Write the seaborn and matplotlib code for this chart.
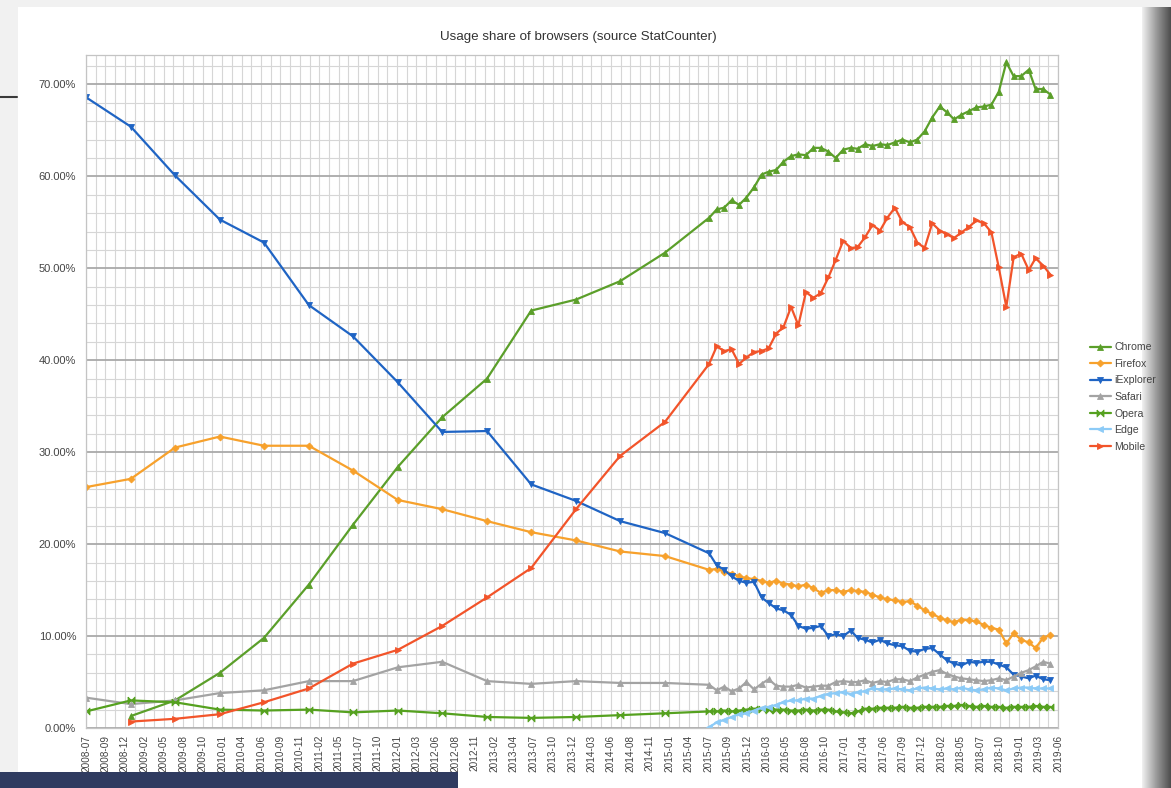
import numpy as np
import pandas as pd
import matplotlib
matplotlib.use("Agg")
import matplotlib.pyplot as plt
import matplotlib.dates as mdates
from matplotlib.patches import Rectangle
from matplotlib.lines import Line2D
import seaborn as sns

# === Data (usage share in %) ===
# half-yearly points 2008-07 .. 2015-07, then monthly 2015-08 .. 2019-05
early_dates = pd.date_range("2008-07-01", "2015-07-01", freq="6MS")
monthly_dates = pd.date_range("2015-08-01", "2019-05-01", freq="MS")

chrome_early = [np.nan, 1.3, 3.0, 6.0, 9.8, 15.6, 22.1, 28.4, 33.8, 38.0, 45.4, 46.6, 48.6, 51.7, 55.5]
chrome_late = [56.4, 56.6, 57.4, 56.9, 57.7, 58.8, 60.2, 60.5, 60.7, 61.6,
               62.2, 62.4, 62.3, 63.1, 63.1, 62.7, 62.0, 62.9, 63.1, 63.0,
               63.5, 63.3, 63.5, 63.4, 63.7, 64.0, 63.7, 64.0, 64.9, 66.4,
               67.6, 67.0, 66.2, 66.7, 67.1, 67.5, 67.6, 67.8, 69.2, 72.4,
               70.9, 70.9, 71.6, 69.5, 69.5, 68.9]

firefox_early = [26.2, 27.1, 30.5, 31.7, 30.7, 30.7, 28.0, 24.8, 23.8, 22.5, 21.3, 20.4, 19.2, 18.7, 17.2]
firefox_late = [17.3, 17.0, 16.8, 16.5, 16.3, 16.2, 16.0, 15.8, 16.0, 15.7,
                15.6, 15.4, 15.6, 15.2, 14.7, 15.0, 15.0, 14.8, 15.0, 14.9,
                14.8, 14.5, 14.2, 14.0, 13.9, 13.7, 13.8, 13.3, 12.8, 12.4,
                12.0, 11.7, 11.5, 11.8, 11.7, 11.6, 11.2, 10.9, 10.7, 9.2,
                10.3, 9.6, 9.3, 8.7, 9.8, 10.1]

iexplorer_early = [68.6, 65.4, 60.1, 55.3, 52.8, 46.0, 42.6, 37.6, 32.2, 32.3, 26.5, 24.7, 22.5, 21.2, 19.0]
iexplorer_late = [17.7, 17.2, 16.5, 16.0, 15.8, 15.9, 14.2, 13.6, 13.0, 12.8,
                  12.3, 11.1, 10.8, 10.9, 11.1, 10.0, 10.2, 10.0, 10.6, 9.8,
                  9.6, 9.3, 9.6, 9.2, 9.0, 8.9, 8.4, 8.3, 8.6, 8.7,
                  8.0, 7.4, 7.0, 6.8, 7.2, 7.1, 7.2, 7.2, 6.9, 6.6,
                  5.8, 5.6, 5.4, 5.7, 5.3, 5.2]

safari_early = [3.3, 2.6, 3.0, 3.8, 4.1, 5.1, 5.1, 6.6, 7.2, 5.1, 4.8, 5.1, 4.9, 4.9, 4.7]
safari_late = [4.1, 4.5, 4.0, 4.3, 5.0, 4.2, 4.8, 5.3, 4.6, 4.5,
               4.5, 4.7, 4.4, 4.5, 4.6, 4.6, 5.0, 5.1, 5.0, 5.0,
               5.2, 4.9, 5.1, 5.0, 5.3, 5.3, 5.1, 5.5, 5.8, 6.1,
               6.3, 5.9, 5.6, 5.4, 5.3, 5.2, 5.1, 5.2, 5.4, 5.2,
               5.6, 6.0, 6.3, 6.7, 7.2, 7.0]

opera_early = [1.8, 3.0, 2.8, 2.0, 1.9, 2.0, 1.7, 1.9, 1.6, 1.2, 1.1, 1.2, 1.4, 1.6, 1.8]
opera_late = [1.8, 1.9, 1.8, 1.9, 2.0, 2.1, 2.1, 2.0, 2.0, 2.0,
              1.9, 1.9, 2.0, 1.9, 2.0, 2.0, 1.8, 1.7, 1.6, 1.8,
              2.1, 2.1, 2.2, 2.2, 2.2, 2.3, 2.2, 2.2, 2.3, 2.3,
              2.3, 2.4, 2.4, 2.5, 2.4, 2.3, 2.4, 2.3, 2.3, 2.2,
              2.3, 2.3, 2.3, 2.4, 2.3, 2.3]

edge_early = [np.nan] * 14 + [0.1]
edge_late = [0.6, 0.9, 1.2, 1.5, 1.6, 1.9, 2.2, 2.3, 2.5, 2.8,
             3.0, 3.0, 3.2, 3.2, 3.5, 3.7, 3.8, 3.9, 3.7, 3.9,
             4.0, 4.3, 4.2, 4.2, 4.3, 4.2, 4.1, 4.3, 4.4, 4.3,
             4.2, 4.3, 4.2, 4.4, 4.2, 4.1, 4.2, 4.4, 4.3, 4.1,
             4.3, 4.4, 4.4, 4.3, 4.3, 4.3]

mobile_early = [np.nan, 0.7, 1.0, 1.5, 2.8, 4.3, 7.0, 8.5, 11.1, 14.2, 17.4, 23.8, 29.6, 33.3, 39.6]
mobile_late = [41.5, 41.0, 41.2, 39.6, 40.3, 40.9, 41.0, 41.3, 42.9, 43.6,
               45.8, 43.8, 47.4, 46.8, 47.3, 49.0, 50.9, 53.0, 52.2, 52.3,
               53.4, 54.7, 54.1, 55.5, 56.6, 55.0, 54.5, 52.8, 52.2, 54.9,
               54.1, 53.7, 53.3, 53.9, 54.5, 55.2, 54.9, 53.9, 50.1, 45.8,
               51.2, 51.6, 49.8, 51.1, 50.3, 49.3]

tick_labels = [
    "2008-07", "2008-09", "2008-12", "2009-02", "2009-05", "2009-08", "2009-10",
    "2010-01", "2010-04", "2010-06", "2010-09", "2010-11", "2011-02", "2011-05",
    "2011-07", "2011-10", "2012-01", "2012-03", "2012-06", "2012-08", "2012-11",
    "2013-02", "2013-04", "2013-07", "2013-10", "2013-12", "2014-03", "2014-06",
    "2014-08", "2014-11", "2015-01", "2015-04", "2015-07", "2015-09", "2015-12",
    "2016-03", "2016-05", "2016-08", "2016-10", "2017-01", "2017-04", "2017-06",
    "2017-09", "2017-12", "2018-02", "2018-05", "2018-07", "2018-10", "2019-01",
    "2019-03", "2019-06",
]

series = {
    "Chrome": chrome_early + chrome_late,
    "Firefox": firefox_early + firefox_late,
    "iExplorer": iexplorer_early + iexplorer_late,
    "Safari": safari_early + safari_late,
    "Opera": opera_early + opera_late,
    "Edge": edge_early + edge_late,
    "Mobile": mobile_early + mobile_late,
}
all_dates = list(early_dates) + list(monthly_dates)

frames = [pd.DataFrame({"date": all_dates, "share": vals, "browser": name})
          for name, vals in series.items()]
df = pd.concat(frames).dropna()

# === Styles ===
bowtie = [(-1, 1), (-1, -1), (1, 1), (1, -1), (-1, 1)]
styles = {
    "Chrome": dict(color="#5b9f2a", marker="^", ms=5),
    "Firefox": dict(color="#f7a12c", marker="D", ms=3.5),
    "iExplorer": dict(color="#1f64c4", marker="v", ms=5),
    "Safari": dict(color="#a3a3a3", marker="^", ms=4),
    "Opera": dict(color="#55a11f", marker=bowtie, ms=5),
    "Edge": dict(color="#8ccbf7", marker="<", ms=5),
    "Mobile": dict(color="#f2542a", marker=">", ms=5),
}

sns.set_theme(style="white")
plt.rcParams["font.family"] = ["Liberation Sans", "DejaVu Sans"]

W, H = 1171, 788
fig = plt.figure(figsize=(W / 100, H / 100), dpi=100)
fig.patch.set_facecolor("white")

# screenshot frame bits
def px_rect(x0, y0, x1, y1, color, z=0):
    fig.patches.append(Rectangle((x0 / W, 1 - y1 / H), (x1 - x0) / W, (y1 - y0) / H,
                                 transform=fig.transFigure, facecolor=color,
                                 edgecolor="none", zorder=z))

px_rect(0, 0, W, 7, "#f1f1f1")
px_rect(0, 0, 18, H, "#f1f1f1")
fig.lines.append(Line2D([0, 17 / W], [1 - 97 / H, 1 - 97 / H], transform=fig.transFigure,
                        color="#3a3a3a", lw=1.5))
shade = fig.add_axes([1142 / W, 0, (W - 1142) / W, 1])
shade.imshow(np.linspace(0, 1, 60)[None, :], aspect="auto",
             cmap=sns.blend_palette(["#f0f0f0", "#9a9a9a", "#4e4e4e"], as_cmap=True))
shade.set_axis_off()

ax = fig.add_axes([86 / W, 1 - 728 / H, (1058 - 86) / W, (728 - 55) / H])

for name in series:
    st = styles[name]
    sns.lineplot(data=df[df["browser"] == name], x="date", y="share", ax=ax,
                 color=st["color"], marker=st["marker"], markersize=st["ms"],
                 markeredgewidth=0.6, markeredgecolor=st["color"],
                 linewidth=1.6, label=name, errorbar=None)

# === Axes ===
start, end = mdates.date2num(pd.Timestamp("2008-07-01")), mdates.date2num(pd.Timestamp("2019-06-01"))
ticks = np.linspace(start, end, len(tick_labels))
ax.set_xlim(start, end)
ax.set_xticks(ticks)
ax.set_xticklabels(tick_labels, rotation=90, fontsize=7.2, color="#444444")
ax.set_xticks((ticks[:-1] + ticks[1:]) / 2, minor=True)

ax.set_ylim(0, 73.2)
ax.set_yticks(np.arange(0, 71, 10))
ax.set_yticks(np.arange(0, 73, 2), minor=True)
ax.yaxis.set_major_formatter(lambda v, p: f"{v:.2f}%")
ax.tick_params(axis="y", labelsize=8, labelcolor="#444444", length=0, pad=7)
ax.tick_params(axis="x", which="both", length=3, color="#b8b8b8", pad=2, direction="out")
ax.tick_params(axis="x", which="minor", length=2)

ax.grid(which="major", axis="y", color="#a9a9a9", lw=1.3)
ax.grid(which="minor", axis="y", color="#d6d6d6", lw=0.8)
ax.grid(which="both", axis="x", color="#d6d6d6", lw=0.8)
ax.set_axisbelow(True)
for sp in ax.spines.values():
    sp.set_color("#c4c4c4")
    sp.set_linewidth(0.9)
ax.set_xlabel("")
ax.set_ylabel("")

handles, labels = ax.get_legend_handles_labels()
ax.legend(handles, labels, loc="center left", bbox_to_anchor=(1080 / W, 1 - 397 / H),
          bbox_transform=fig.transFigure, frameon=False, fontsize=7.6,
          handlelength=2.0, handletextpad=0.35, labelspacing=0.62,
          labelcolor="#444444")

fig.text(578 / W, 1 - 37 / H, "Usage share of browsers (source StatCounter)",
         ha="center", va="center", fontsize=9.6, color="#333333")

# bottom-left banner from the screenshot
px_rect(0, 772, 458, H, "#2f3b60", z=5)

plt.savefig("out.png", dpi=100)
